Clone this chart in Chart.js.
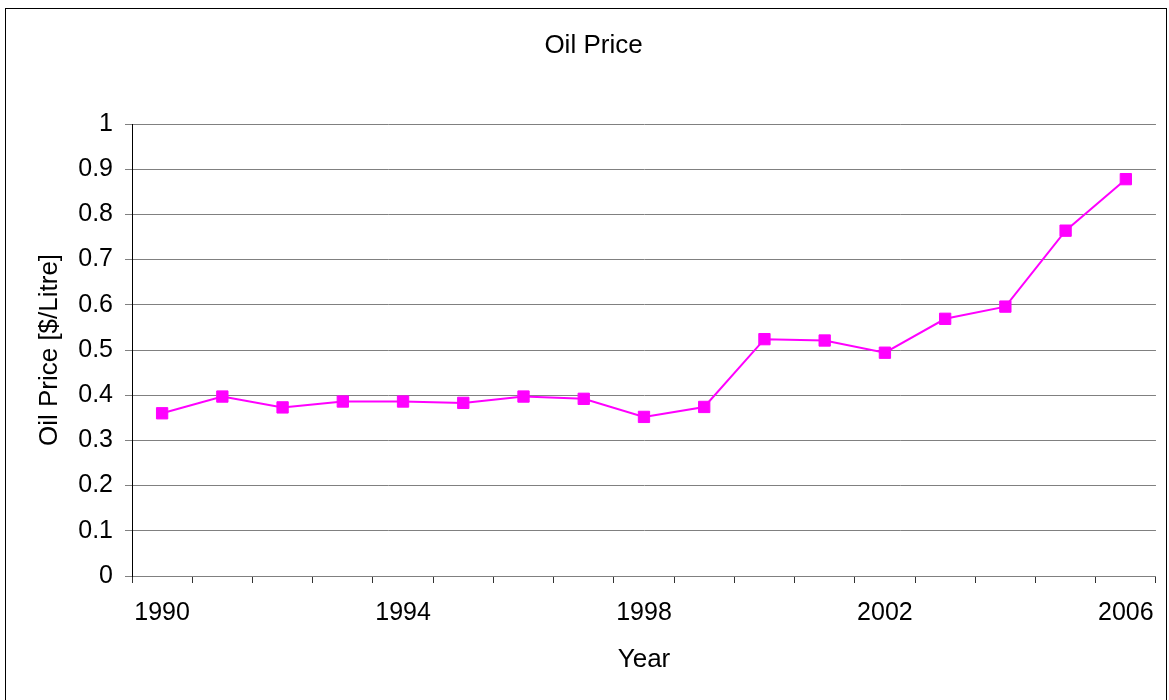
<!DOCTYPE html>
<html>
<head>
<meta charset="utf-8">
<title>Oil Price</title>
<script src="https://cdn.jsdelivr.net/npm/chart.js@4.4.1/dist/chart.umd.min.js"></script>
<style>
  html, body { margin: 0; padding: 0; background: #fff; }
  #wrap { position: relative; width: 1169px; height: 700px; overflow: hidden; }
  #frame { position: absolute; left: 5px; top: 8px; width: 1162px; height: 720px; border: 1px solid #000; box-sizing: border-box; pointer-events: none; }
  canvas { position: absolute; left: 0; top: 0; }
</style>
</head>
<body>
<div id="wrap">
  <canvas id="chart" width="1169" height="700"></canvas>
  <div id="frame"></div>
</div>
<script>
// Yearly oil price, $ per litre
const years = ['1990','1991','1992','1993','1994','1995','1996','1997','1998',
               '1999','2000','2001','2002','2003','2004','2005','2006'];
const oilPrice = [0.360, 0.397, 0.373, 0.386, 0.386, 0.383, 0.397, 0.392, 0.352,
                  0.374, 0.524, 0.521, 0.494, 0.569, 0.596, 0.764, 0.878];
const yearLabelEvery = 4;

const FONT = 'Liberation Sans, Arial, Helvetica, sans-serif';
Chart.defaults.color = '#000';
Chart.defaults.font.family = FONT;

new Chart(document.getElementById('chart'), {
  type: 'line',
  data: {
    labels: years,
    datasets: [{
      label: 'Oil Price',
      data: oilPrice,
      borderColor: '#ff00ff',
      backgroundColor: '#ff00ff',
      borderWidth: 2,
      pointStyle: 'rect',
      pointRadius: 8,
      pointBorderWidth: 1,
      pointBorderColor: '#ff00ff',
      pointBackgroundColor: '#ff00ff',
      tension: 0,
      fill: false
    }]
  },
  options: {
    responsive: false,
    animation: false,
    events: [],
    layout: { padding: { left: 30, right: 12, top: 0, bottom: 24.4 } },
    plugins: {
      legend: { display: false },
      tooltip: { enabled: false },
      title: {
        display: true,
        text: 'Oil Price',
        font: { size: 26, weight: 'normal', family: FONT },
        color: '#000',
        padding: { top: 30, bottom: 62.8 }
      }
    },
    scales: {
      x: {
        type: 'category',
        offset: true,
        grid: {
          offset: true,
          drawOnChartArea: false,
          drawTicks: true,
          tickLength: 7,
          tickColor: '#333',
          color: '#333'
        },
        border: { display: true, color: '#808080', width: 1 },
        ticks: {
          autoSkip: false,
          maxRotation: 0,
          padding: 15,
          font: { size: 25, family: FONT },
          color: '#000',
          callback: function (value, index) {
            return index % yearLabelEvery === 0 ? this.getLabelForValue(value) : '';
          }
        },
        title: {
          display: true,
          text: 'Year',
          font: { size: 26, family: FONT },
          color: '#000',
          padding: { top: 4, bottom: 0 }
        },
        afterFit: function (scale) { scale.height = 99.6; }
      },
      y: {
        min: 0,
        max: 1,
        grid: {
          color: '#808080',
          lineWidth: 1,
          drawTicks: true,
          tickLength: 7,
          tickColor: '#808080'
        },
        border: { display: true, color: '#000', width: 1 },
        ticks: {
          stepSize: 0.1,
          padding: 12,
          font: { size: 25, family: FONT },
          color: '#000',
          callback: function (value) { return Math.round(value * 10) / 10; }
        },
        title: {
          display: true,
          text: 'Oil Price [$/Litre]',
          font: { size: 26, family: FONT },
          color: '#000',
          padding: { top: 4, bottom: 0 }
        },
        afterFit: function (scale) { scale.width = 102; }
      }
    }
  }
});
</script>
</body>
</html>
